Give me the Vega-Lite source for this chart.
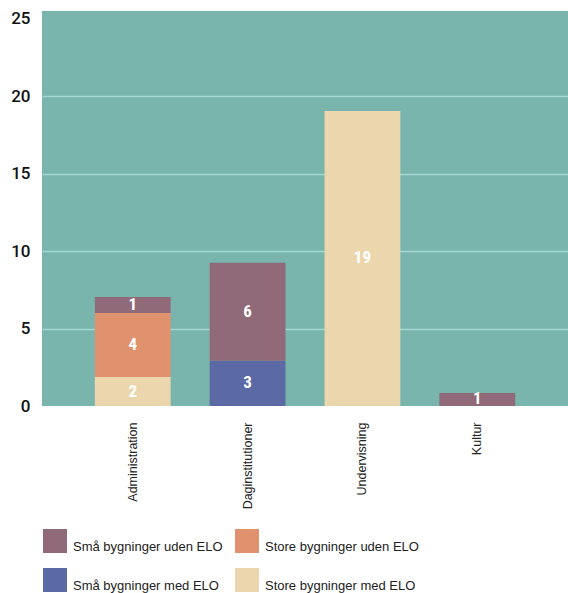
{
  "$schema": "https://vega.github.io/schema/vega-lite/v6.json",
  "width": 526,
  "height": 395,
  "autosize": {"type": "none"},
  "padding": {"left": 42, "top": 11, "right": 0, "bottom": 187},
  "background": "white",
  "config": {"view": {"fill": "#79b5ac", "stroke": null}, "font": "Liberation Sans"},
  "data": {
    "values": [
      {"category": "Administration", "series": "Store bygninger med ELO", "value": 1.87, "order": 1},
      {"category": "Administration", "series": "Store bygninger uden ELO", "value": 4.13, "order": 3},
      {"category": "Administration", "series": "Små bygninger uden ELO", "value": 1.03, "order": 4},
      {"category": "Daginstitutioner", "series": "Små bygninger med ELO", "value": 2.92, "order": 2},
      {"category": "Daginstitutioner", "series": "Små bygninger uden ELO", "value": 6.33, "order": 4},
      {"category": "Undervisning", "series": "Store bygninger med ELO", "value": 19.05, "order": 1},
      {"category": "Kultur", "series": "Små bygninger uden ELO", "value": 0.84, "order": 4}
    ]
  },
  "encoding": {
    "x": {
      "field": "category",
      "type": "nominal",
      "sort": ["Administration", "Daginstitutioner", "Undervisning", "Kultur"],
      "scale": {"paddingInner": 0.34, "paddingOuter": 0.46},
      "axis": {
        "title": null,
        "labelAngle": -90,
        "domain": false,
        "ticks": false,
        "labelPadding": 16,
        "labelFontSize": 12.5,
        "labelColor": "#222222",
        "labelFont": "Liberation Sans"
      }
    }
  },
  "layer": [
    {
      "mark": {"type": "bar"},
      "encoding": {
        "y": {
          "field": "value",
          "type": "quantitative",
          "stack": "zero",
          "scale": {"domain": [0, 25.5], "nice": false},
          "axis": {
            "title": null,
            "values": [0, 5, 10, 15, 20, 25],
            "domain": false,
            "ticks": false,
            "labelPadding": 12,
            "labelFont": "Roboto",
            "labelFontSize": 17,
            "labelFontWeight": 500,
            "labelColor": "#111111",
            "gridColor": "#a8d8d6",
            "gridWidth": 1.5,
            "gridOpacity": {"condition": {"test": "datum.value === 25 || datum.value === 0", "value": 0}, "value": 1}
          }
        },
        "color": {
          "field": "series",
          "type": "nominal",
          "scale": {
            "domain": ["Små bygninger uden ELO", "Store bygninger uden ELO", "Små bygninger med ELO", "Store bygninger med ELO"],
            "range": ["#906a78", "#e0926f", "#5b69a5", "#ecd6ad"]
          },
          "legend": {
            "orient": "none",
            "legendX": 1,
            "legendY": 518,
            "direction": "horizontal",
            "columns": 2,
            "title": null,
            "symbolType": "square",
            "symbolSize": 576,
            "symbolStrokeWidth": 0,
            "labelFontSize": 13,
            "labelOffset": 6,
            "labelBaseline": "top",
            "columnPadding": 12,
            "rowPadding": 14,
            "labelLimit": 300,
            "labelColor": "#222222",
            "labelFont": "Liberation Sans"
          }
        },
        "order": {"field": "order", "type": "quantitative"}
      }
    },
    {
      "transform": [
        {"stack": "value", "groupby": ["category"], "sort": [{"field": "order"}], "as": ["y0", "y1"]},
        {"fold": ["y0", "y1"], "as": ["k", "pos"]},
        {"aggregate": [{"op": "mean", "field": "pos", "as": "mid"}], "groupby": ["category", "series", "value"]}
      ],
      "mark": {"type": "text", "color": "white", "font": "Liberation Sans Narrow, Roboto Condensed, Roboto", "fontWeight": "bold", "fontSize": 17},
      "encoding": {
        "y": {"field": "mid", "type": "quantitative"},
        "text": {"field": "value", "type": "quantitative", "format": ".0f"}
      }
    }
  ]
}
